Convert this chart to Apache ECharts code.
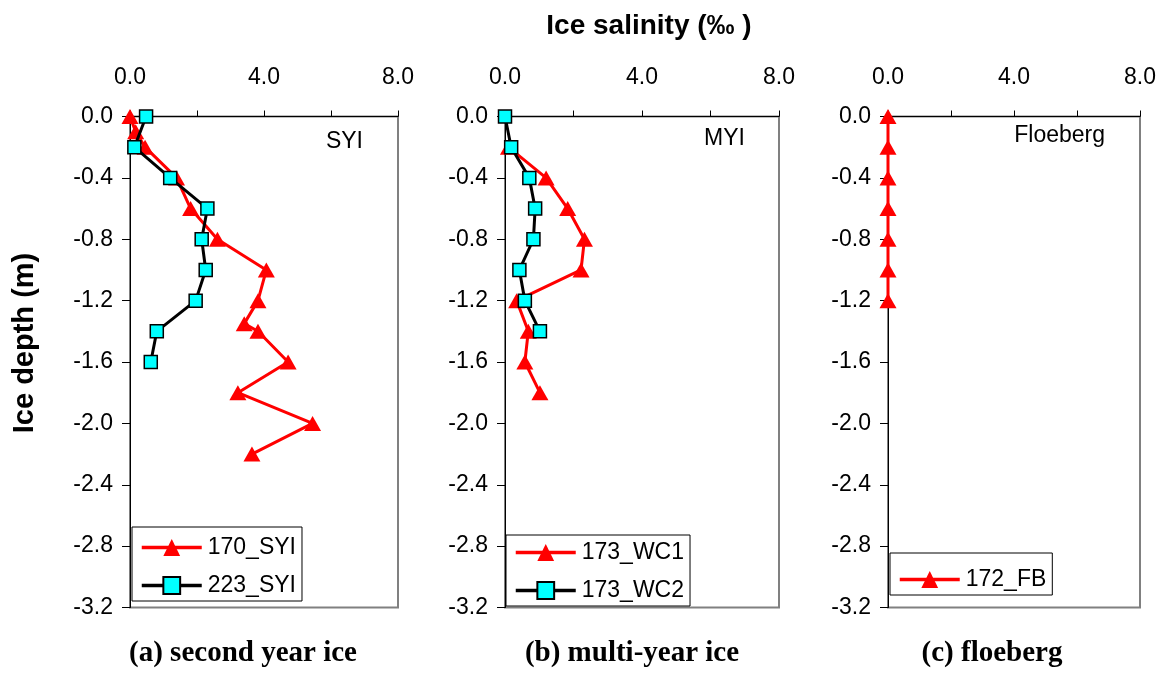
<!DOCTYPE html>
<html>
<head>
<meta charset="utf-8">
<script src="https://cdn.jsdelivr.net/npm/echarts@6/dist/echarts.min.js"></script>
<style>
  html, body { margin: 0; padding: 0; background: #fff; }
  #chart { width: 1160px; height: 673px; }
</style>
</head>
<body>
<div id="chart"></div>
<script>
// Salinity profiles: depth (m, negative downward) against salinity (‰)
const depthTicks = [0.0, -0.4, -0.8, -1.2, -1.6, -2.0, -2.4, -2.8, -3.2];
const salinityTicks = [0.0, 4.0, 8.0];

// (a) second year ice
const syi170Depth = [0.0, -0.1, -0.2, -0.4, -0.6, -0.8, -1.0, -1.2, -1.35, -1.4, -1.6, -1.8, -2.0, -2.2];
const syi170Sal   = [0.0, 0.17, 0.45, 1.39, 1.81, 2.61, 4.07, 3.82, 3.41, 3.82, 4.72, 3.22, 5.45, 3.64];
const syi223Depth = [0.0, -0.2, -0.4, -0.6, -0.8, -1.0, -1.2, -1.4, -1.6];
const syi223Sal   = [0.48, 0.13, 1.20, 2.31, 2.14, 2.26, 1.96, 0.80, 0.62];

// (b) multi-year ice
const wc1Depth = [-0.2, -0.4, -0.6, -0.8, -1.0, -1.2, -1.4, -1.6, -1.8];
const wc1Sal   = [0.10, 1.20, 1.83, 2.32, 2.22, 0.34, 0.68, 0.58, 1.02];
const wc2Depth = [0.0, -0.2, -0.4, -0.6, -0.8, -1.0, -1.2, -1.4];
const wc2Sal   = [0.0, 0.18, 0.71, 0.88, 0.83, 0.42, 0.58, 1.02];

// (c) floeberg
const fbDepth = [0.0, -0.2, -0.4, -0.6, -0.8, -1.0, -1.2];
const fbSal   = [0.0, 0.0, 0.0, 0.0, 0.0, 0.0, 0.0];

const pair = (xs, ys) => xs.map((x, i) => [x, ys[i]]);

const FONT = "'Liberation Sans', Arial, sans-serif";
const SERIF = "'Liberation Serif', 'Times New Roman', serif";
const LABEL_SIZE = 23;

const grids = [
  { left: 130, top: 116.5, width: 268, height: 491 },
  { left: 505, top: 116.5, width: 274, height: 491 },
  { left: 888, top: 116.5, width: 252, height: 491 }
];

function xAxisFor(i) {
  return {
    type: 'value', gridIndex: i, position: 'top',
    min: 0, max: 8, interval: 2,
    axisLine: { show: true, lineStyle: { color: '#000', width: 1 } },
    axisTick: { show: true, inside: false, length: 6, lineStyle: { color: '#000' } },
    axisLabel: {
      show: true, margin: 27, color: '#000', fontFamily: FONT, fontSize: LABEL_SIZE,
      formatter: v => salinityTicks.some(t => Math.abs(t - v) < 1e-9) ? v.toFixed(1) : ''
    },
    splitLine: { show: false }
  };
}

function yAxisFor(i) {
  return {
    type: 'value', gridIndex: i,
    min: depthTicks[depthTicks.length - 1], max: depthTicks[0], interval: 0.4,
    axisLine: { show: true, lineStyle: { color: '#000', width: 1 } },
    axisTick: { show: true, inside: false, length: 8, lineStyle: { color: '#000' } },
    axisLabel: {
      show: true, margin: 17, color: '#000', fontFamily: FONT, fontSize: LABEL_SIZE,
      formatter: v => (Math.abs(v) < 1e-9 ? 0 : v).toFixed(1)
    },
    splitLine: { show: false }
  };
}

function redSeries(name, idx, data) {
  return {
    name, type: 'line', xAxisIndex: idx, yAxisIndex: idx, data,
    clip: false, z: 3,
    symbol: 'triangle', symbolSize: [17, 15],
    lineStyle: { color: '#ff0000', width: 3 },
    itemStyle: { color: '#ff0000', borderWidth: 0 }
  };
}

function cyanSeries(name, idx, data) {
  return {
    name, type: 'line', xAxisIndex: idx, yAxisIndex: idx, data,
    clip: false, z: 4,
    symbol: 'rect', symbolSize: 13,
    lineStyle: { color: '#000', width: 3 },
    itemStyle: { color: '#00ffff', borderColor: '#000', borderWidth: 1.5 }
  };
}

function legendAt(names, left, top, width, height, padTop) {
  return {
    data: names, orient: 'vertical', left, top, width, height,
    backgroundColor: '#fff', borderColor: '#000', borderWidth: 1, borderRadius: 0,
    padding: [padTop, 6, 4, 8], itemGap: 15, itemWidth: 60, itemHeight: 21,
    lineStyle: { width: 3.5 },
    textStyle: { color: '#000', fontFamily: FONT, fontSize: LABEL_SIZE, padding: [0, 0, 0, 1] },
    selectedMode: false
  };
}

const chart = echarts.init(document.getElementById('chart'), null, { renderer: 'canvas' });

chart.setOption({
  backgroundColor: '#fff',
  animation: false,
  grid: grids.map(g => Object.assign({ show: true, borderColor: '#808080', borderWidth: 2 }, g)),
  xAxis: [0, 1, 2].map(xAxisFor),
  yAxis: [0, 1, 2].map(yAxisFor),
  legend: [
    legendAt(['170_SYI', '223_SYI'], 132, 527, 170, 81, 9),
    legendAt(['173_WC1', '173_WC2'], 506, 535, 184, 74, 6),
    legendAt(['172_FB'], 890, 553, 177, 56, 15)
  ],
  series: [
    redSeries('170_SYI', 0, pair(syi170Sal, syi170Depth)),
    cyanSeries('223_SYI', 0, pair(syi223Sal, syi223Depth)),
    redSeries('173_WC1', 1, pair(wc1Sal, wc1Depth)),
    cyanSeries('173_WC2', 1, pair(wc2Sal, wc2Depth)),
    redSeries('172_FB', 2, pair(fbSal, fbDepth))
  ],
  graphic: [
    { type: 'text', x: 649, y: 26,
      style: { text: 'Ice salinity (‰ )', font: `bold 28px ${FONT}`, fill: '#000', align: 'center', verticalAlign: 'middle' } },
    { type: 'text', rotation: Math.PI / 2, x: 25, y: 343,
      style: { text: 'Ice depth (m)', font: `bold 29px ${FONT}`, fill: '#000', align: 'center', verticalAlign: 'middle' } },
    { type: 'text', x: 363, y: 142,
      style: { text: 'SYI', font: `${LABEL_SIZE}px ${FONT}`, fill: '#000', align: 'right', verticalAlign: 'middle' } },
    { type: 'text', x: 745, y: 139,
      style: { text: 'MYI', font: `${LABEL_SIZE}px ${FONT}`, fill: '#000', align: 'right', verticalAlign: 'middle' } },
    { type: 'text', x: 1105, y: 136,
      style: { text: 'Floeberg', font: `${LABEL_SIZE}px ${FONT}`, fill: '#000', align: 'right', verticalAlign: 'middle' } },
    { type: 'text', x: 243, y: 654,
      style: { text: '(a) second year ice', font: `bold 29px ${SERIF}`, fill: '#000', align: 'center', verticalAlign: 'middle' } },
    { type: 'text', x: 632, y: 654,
      style: { text: '(b) multi-year ice', font: `bold 29px ${SERIF}`, fill: '#000', align: 'center', verticalAlign: 'middle' } },
    { type: 'text', x: 992, y: 654,
      style: { text: '(c) floeberg', font: `bold 29px ${SERIF}`, fill: '#000', align: 'center', verticalAlign: 'middle' } }
  ]
});
</script>
</body>
</html>
